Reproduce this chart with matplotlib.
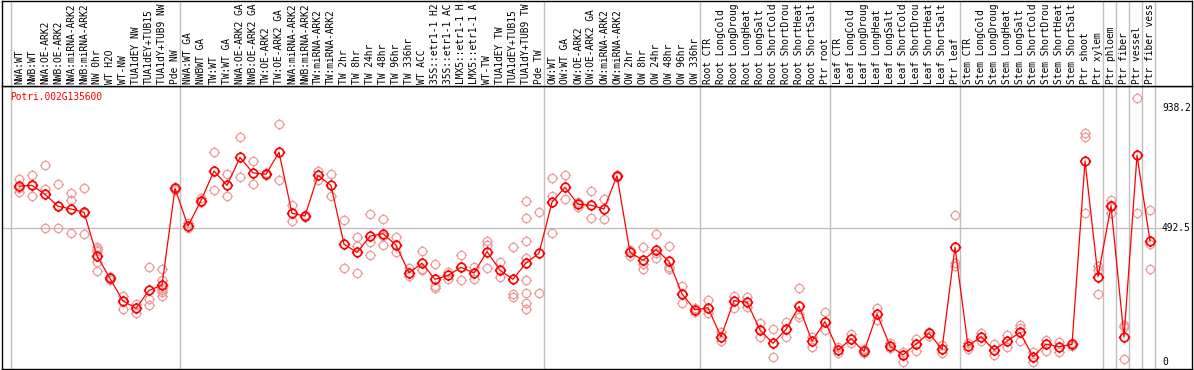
import matplotlib
matplotlib.use("Agg")
import matplotlib.pyplot as plt
import matplotlib.path as mpath
import numpy as np

gene = "Potri.002G135600"

# sample labels as they appear in the header (long names are cut short there)
labels = [
    "NWA:WT", "NWB:WT", "NWA:OE-ARK2", "NWB:OE-ARK2", "NWA:miRNA-ARK2", "NWB:miRNA-ARK2",
    "NW 0hr", "WT H2O", "WT-NW", "TUA1dEY NW", "TUA1dEY+TUB15", "TUA1dY+TUB9 NW", "Pde NW",
    "NWA:WT GA", "NWBWT GA", "TW:WT", "TW:WT GA", "NWA:OE-ARK2 GA", "NWB:OE-ARK2 GA",
    "TW:OE-ARK2", "TW:OE-ARK2 GA", "NWA:miRNA-ARK2", "NWB:miRNA-ARK2", "TW:miRNA-ARK2",
    "TW:miRNA-ARK2", "TW 2hr", "TW 8hr", "TW 24hr", "TW 48hr", "TW 96hr", "TW 336hr",
    "WT ACC", "35S::etr1-1 H2", "35S::etr1-1 AC", "LMX5::etr1-1 H", "LMX5::etr1-1 A",
    "WT-TW", "TUA1dEY TW", "TUA1dEY+TUB15", "TUA1dY+TUB9 TW", "Pde TW",
    "OW:WT", "OW:WT GA", "OW:OE-ARK2", "OW:OE-ARK2 GA", "OW:miRNA-ARK2", "OW:miRNA-ARK2",
    "OW 2hr", "OW 8hr", "OW 24hr", "OW 48hr", "OW 96hr", "OW 336hr",
    "Root CTR", "Root LongCold", "Root LongDroug", "Root LongHeat", "Root LongSalt",
    "Root ShortCold", "Root ShortDrou", "Root ShortHeat", "Root ShortSalt", "Ptr root",
    "Leaf CTR", "Leaf LongCold", "Leaf LongDroug", "Leaf LongHeat", "Leaf LongSalt",
    "Leaf ShortCold", "Leaf ShortDrou", "Leaf ShortHeat", "Leaf ShortSalt", "Ptr leaf",
    "Stem CTR", "Stem LongCold", "Stem LongDroug", "Stem LongHeat", "Stem LongSalt",
    "Stem ShortCold", "Stem ShortDrou", "Stem ShortHeat", "Stem ShortSalt", "Ptr shoot",
    "Ptr xylem", "Ptr phloem", "Ptr fiber", "Ptr vessel", "Ptr fiber vess",
]

means = [
    648, 651, 618, 574, 564, 552, 391, 308, 225, 198, 264, 283, 640,
    501, 595, 704, 651, 754, 697, 692, 773, 548, 538, 688, 651, 434, 404, 464, 473, 431,
    329, 364, 305, 319, 349, 328, 407, 338, 305, 365, 401,
    589, 644, 581, 578, 564, 686, 404, 375, 414, 371, 251, 192,
    200, 93, 226, 220, 118, 69, 120, 205, 77, 149,
    43, 86, 39, 177, 59, 26, 66, 106, 47, 423,
    59, 93, 44, 77, 109, 20, 66, 56, 65, 741, 315,
    575, 92, 762, 446,
]

reps = [
    [673, 643, 628], [689, 651, 611], [726, 638, 493], [655, 574, 493], [624, 598, 474],
    [640, 548, 471], [425, 415, 410, 367, 334], [315, 302], [243, 197], [215, 182],
    [349, 232, 210], [342, 302, 272, 265, 259, 244], [646, 634],
    [511, 493], [603, 591], [773, 634], [693, 611], [829, 683], [740, 655], [695, 688],
    [877, 671], [579, 520], [542, 534], [704, 671], [693, 611], [523, 345],
    [461, 428, 328], [544, 444, 393], [526, 464, 430], [461, 404], [345, 318],
    [408, 344, 339], [361, 280, 273], [333, 305], [394, 301], [349, 307],
    [447, 431, 345], [367, 312], [424, 251, 241],
    [593, 530, 446, 382, 303, 253, 216, 194], [552, 253],
    [677, 612, 474], [689, 600], [591, 573], [630, 530], [600, 526], [689, 681],
    [413, 392], [423, 360, 342], [471, 403, 382], [426, 351, 342], [280, 216], [198, 186],
    [229, 179], [112, 79], [245, 198], [241, 204], [145, 93], [120, 20], [146, 93],
    [271, 177, 167], [93, 54], [183, 118],
    [56, 32], [103, 71], [47, 32], [198, 155], [69, 50], [38, 1], [83, 42], [112, 96],
    [63, 32], [541, 366, 354],
    [69, 49], [108, 79], [66, 26], [100, 56], [135, 127, 79], [37, 1], [81, 39], [75, 38],
    [71, 59], [843, 828, 548], [354, 339, 251],
    [597, 579, 550], [135, 130, 10], [974, 548], [560, 435, 341],
]

group_starts = [1, 14, 42, 54, 64, 74, 85, 86, 87, 88, 89]
ytick_vals = [0, 492.5, 936]
ytick_text = ["0", "492.5", "938.2"]

mono = "DejaVu Sans Mono"
fs = 6.9

# marker: ring with four little ticks
circ = mpath.Path.unit_circle()
tv = [(0, 1), (0, 1.35), (0, -1), (0, -1.35), (1, 0), (1.35, 0), (-1, 0), (-1.35, 0)]
tc = [mpath.Path.MOVETO, mpath.Path.LINETO] * 4
ring = mpath.Path.make_compound_path(circ, mpath.Path(tv, tc))

W, H = 1194, 370
fig = plt.figure(figsize=(W / 100, H / 100), dpi=100)
ax = fig.add_axes([2 / W, 1 / H, 1190 / W, 283 / H])
axh = fig.add_axes([2 / W, (H - 86) / H, 1190 / W, 85.5 / H])

xlim = (-0.3077, 91.23)
for a in (ax, axh):
    a.set_xlim(*xlim)
    a.set_xticks([])
    a.set_yticks([])
    for s in a.spines.values():
        s.set_color("black")
        s.set_linewidth(1.0)
ax.set_ylim(-25.8, 1017.3)
axh.set_ylim(0, 1)

xs = np.arange(1, len(labels) + 1)

for b in group_starts:
    ax.axvline(b - 0.6, color="#c0c0c0", lw=1.0, zorder=1)
    axh.axvline(b - 0.6, color="#c0c0c0", lw=1.0, zorder=1)
ax.hlines(492.5, xlim[0], 88.9, color="#c0c0c0", lw=1.0, zorder=1)

for x, r in zip(xs, reps):
    ax.plot([x] * len(r), r, linestyle="none", marker=ring, ms=8,
            mfc="none", mec="#ee9a9a", mew=0.9, zorder=2)

ax.plot(xs, means, color="red", lw=0.9, zorder=3)
ax.plot(xs, means, linestyle="none", marker=ring, ms=8.2,
        mfc="none", mec="red", mew=1.2, zorder=4)

for x, lab in zip(xs, labels):
    axh.text(x, 0.025, lab, rotation=90, ha="center", va="bottom",
             family=mono, fontsize=fs, color="black")

for v, t in zip(ytick_vals, ytick_text):
    ax.text(88.92, v, t, ha="left", va="center", family=mono, fontsize=fs, color="black")

ax.text(8 / 1190, 1 - 11 / 283, gene, transform=ax.transAxes, ha="left", va="center",
        family=mono, fontsize=fs, color="red")

fig.savefig("out.png", dpi=100)
